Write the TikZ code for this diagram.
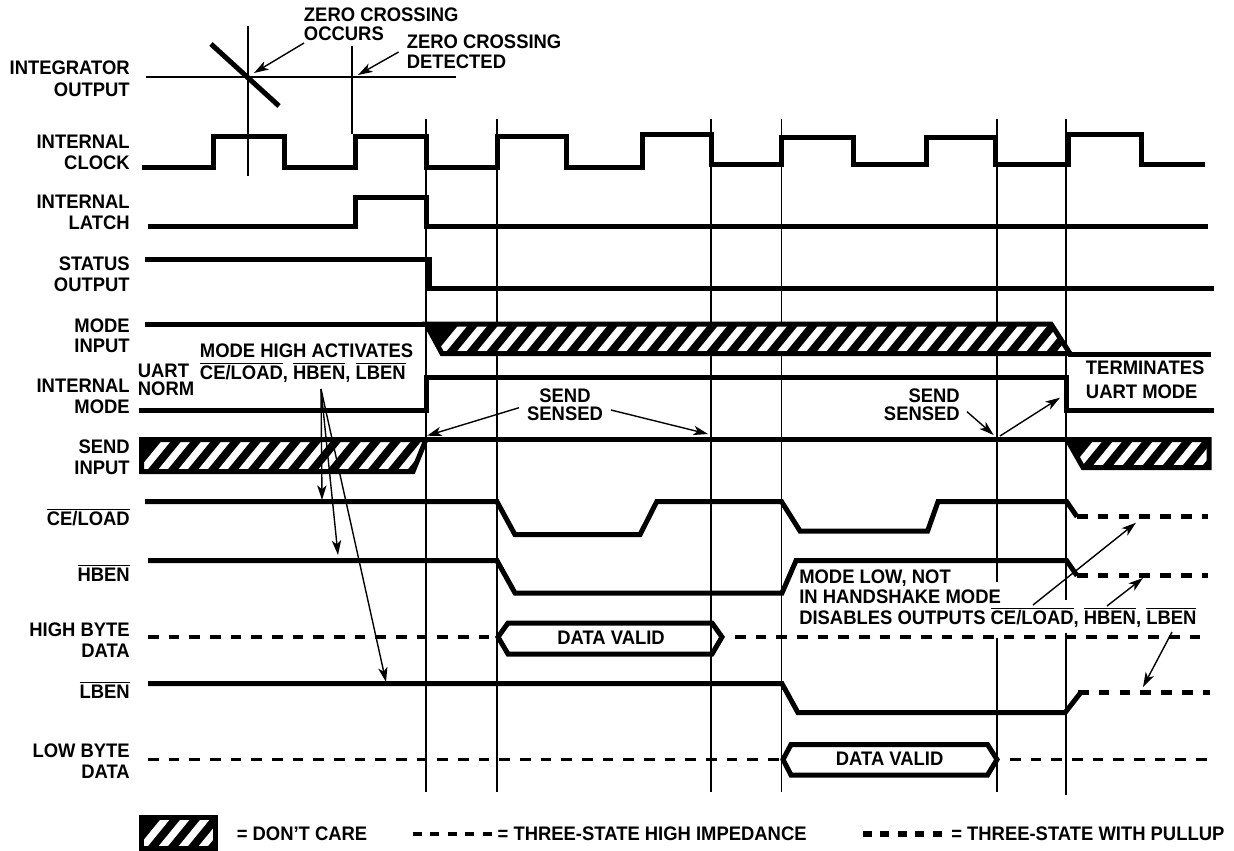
\documentclass[tikz,border=0pt]{standalone}
\usepackage{fontspec}
\setmainfont{Liberation Sans}[BoldFont=* Bold,BoldFeatures={FakeStretch=0.94}]
\usetikzlibrary{arrows.meta}
\newcommand{\ovl}[1]{\leavevmode\vbox{\hrule height 0.55pt \kern 1.5pt \hbox{#1}}}
\newcommand{\hatched}[3]{% polygon, x0, y0
  \fill[black] #1;
  \begin{scope}
    \clip #1;
    \foreach \k in {0,...,64}
      \draw[white,line width=5.4pt] ({#2+20*\k-36.8},{#3+45}) -- ({#2+20*\k+36.8},{#3-45});
  \end{scope}
  \draw[sig] #1;
}
\tikzset{
  x=0.75pt,y=-0.75pt,
  sig/.style={line width=3.75pt,miter limit=10,line join=miter},
  thinline/.style={line width=1.05pt},
  diag/.style={line width=3.75pt},
  hiz/.style={line width=2.5pt,dash pattern=on 7.9pt off 7.6pt},
  pull/.style={line width=4pt,dash pattern=on 8pt off 7.6pt},
  arr/.style={line width=1.05pt,-{Stealth[length=11pt,width=7pt,inset=3pt]}},
  lbl/.style={anchor=base east,inner sep=0pt,font=\fontsize{14.7}{16}\selectfont\bfseries},
  txt/.style={anchor=base west,inner sep=0pt,font=\fontsize{14.7}{16}\selectfont\bfseries},
  ctr/.style={anchor=base,inner sep=0pt,font=\fontsize{14.7}{16}\selectfont\bfseries},
}
\begin{document}
\begin{tikzpicture}
\useasboundingbox (0,0) rectangle (1234,850);
% vertical timing lines
\draw[thinline] (248,26) -- (248,176);
\draw[thinline] (352,46) -- (352,134);
\foreach \x in {426,497,711,781.6} \draw[thinline] (\x,119) -- (\x,792);
\draw[thinline] (997,119) -- (997,582) (997,638) -- (997,792);
\draw[thinline] (1066,119) -- (1066,600) (1066,633) -- (1066,795);
% integrator
\draw[thinline] (145.5,77) -- (455.5,77);
\draw[diag] (211,44) -- (279,106);
% clock
\draw[sig] (142,167) -- (213,167) -- (213,136.5) -- (284,136.5) -- (284,167) -- (355,167) -- (355,136.5) -- (426,136.5) -- (426,167) -- (497.5,167) -- (497.5,136.5) -- (566,136.5) -- (566,167) -- (642,167) -- (642,134.5) -- (711,134.5) -- (711,164) -- (781,164) -- (781,137) -- (853,137) -- (853,164) -- (926.5,164) -- (926.5,137) -- (995,137) -- (995,164) -- (1068,164) -- (1068,134.5) -- (1141,134.5) -- (1141,164) -- (1205,164);
% latch, status
\draw[sig] (148,226) -- (355,226) -- (355,197) -- (426,197) -- (426,226) -- (1208,226);
\draw[sig] (145,259) -- (429,259) -- (429,288) -- (1214,288);
% mode input
\draw[sig] (145,324) -- (430,324);
\hatched{(426,324) -- (1051,324) -- (1070,353.5) -- (442,353.5) -- cycle}{451}{340}
\draw[sig] (1068,354) -- (1211,354);
% internal mode
\draw[sig] (139,410) -- (426,410) -- (426,377) -- (1066.7,377) -- (1066.7,410) -- (1214,410);
% send input
\draw[sig] (426,439.5) -- (1067,439.5);
\hatched{(141.5,439.5) -- (426,439.5) -- (413,471.5) -- (141.5,471.5) -- cycle}{154}{456}
\hatched{(1067,439.5) -- (1209,439.5) -- (1209,467.5) -- (1083,467.5) -- cycle}{1088}{453}
% CE/LOAD
\draw[sig] (145,501.7) -- (497,501.7) -- (515,534.7) -- (640,534.7) -- (656.7,501.7) -- (781.6,501.7) -- (800,531) -- (927.6,531) -- (938,501.7) -- (1066.7,501.7) -- (1077,516.7);
\draw[pull] (1077,516.7) -- (1208,516.7);
% HBEN
\draw[sig] (148,560.7) -- (497,560.7) -- (515,593) -- (782,593) -- (796,560.7) -- (1066.7,560.7) -- (1077,575.7);
\draw[pull] (1077,575.7) -- (1208,575.7);
% high byte
\draw[hiz] (148,637) -- (497,637);
\draw[sig] (498,637) -- (508,623) -- (712,623) -- (722,637) -- (712,654) -- (508,654) -- cycle;
\draw[hiz] (735,637) -- (1207,637);
% LBEN
\draw[sig] (148,683.7) -- (782,683.7) -- (798,712.7) -- (1065,712.7) -- (1080.6,692.7);
\draw[pull] (1078,692.7) -- (1210,692.7);
% low byte
\draw[hiz] (148,759.3) -- (781,759.3);
\draw[sig] (783,759.5) -- (791,744.5) -- (987.5,744.5) -- (997,759.5) -- (987.5,775) -- (791,775) -- cycle;
\draw[hiz] (1010,759.3) -- (1207,759.3);
% legend
\hatched{(141.5,817.5) -- (215,817.5) -- (215,848) -- (141.5,848) -- cycle}{154}{833}
\draw[line width=2.4pt,dash pattern=on 6.75pt off 6.3pt] (413,834) -- (492,834);
\draw[line width=4pt,dash pattern=on 6.75pt off 6.3pt] (863,834) -- (942,834);
% left labels
\node[lbl] (l1a) at (130,74) {INTEGRATOR};
\node[lbl] (l1b) at (130,96) {OUTPUT};
\node[lbl] (l2a) at (130,148) {INTERNAL};
\node[lbl] (l2b) at (130,169) {CLOCK};
\node[lbl] (l3a) at (130,208.5) {INTERNAL};
\node[lbl] (l3b) at (130,229.5) {LATCH};
\node[lbl] (l4a) at (130,270.5) {STATUS};
\node[lbl] (l4b) at (130,291.5) {OUTPUT};
\node[lbl] (l5a) at (130,332) {MODE};
\node[lbl] (l5b) at (130,352.5) {INPUT};
\node[lbl] (l6a) at (130,392) {INTERNAL};
\node[lbl] (l6b) at (130,413) {MODE};
\node[lbl] (l7a) at (130,453) {SEND};
\node[lbl] (l7b) at (130,474) {INPUT};
\node[lbl] (l8) at (130,525.5) {\ovl{CE/LOAD}};
\node[lbl] (l9) at (130,581.5) {\ovl{HBEN}};
\node[lbl] (l10a) at (130,636.5) {HIGH BYTE};
\node[lbl] (l10b) at (130,657) {DATA};
\node[lbl] (l11) at (130,698) {\ovl{LBEN}};
\node[lbl] (l12a) at (130,757) {LOW BYTE};
\node[lbl] (l12b) at (130,778) {DATA};
% annotations
\node[txt] (z1a) at (303.7,21) {ZERO CROSSING};
\node[txt] (z1b) at (303.7,40.5) {OCCURS};
\node[txt] (z2a) at (406.5,48) {ZERO CROSSING};
\node[txt] (z2b) at (406.5,68) {DETECTED};
\node[txt] (u1) at (137.6,377) {UART};
\node[txt] (u2) at (137.6,395.5) {NORM};
\node[txt] (m1) at (199.7,357) {MODE HIGH ACTIVATES};
\node[txt] (m2) at (199.7,379.5) {\ovl{CE/LOAD}, \ovl{HBEN}, \ovl{LBEN}};
\node[ctr] (s1a) at (565,402.5) {SEND};
\node[ctr] (s1b) at (565,420.5) {SENSED};
\node[lbl] (s2a) at (960,402.5) {SEND};
\node[lbl] (s2b) at (960,420.5) {SENSED};
\node[txt] (t1) at (1085.7,374.5) {TERMINATES};
\node[txt] (t2) at (1085.7,398) {UART MODE};
\node[txt] (d1) at (799,583) {MODE LOW, NOT};
\node[txt] (d2) at (799,603.5) {IN HANDSHAKE MODE};
\node[txt] (d3) at (799,624.5) {DISABLES OUTPUTS \ovl{CE/LOAD}, \ovl{HBEN}, \ovl{LBEN}};
\node[ctr] (v1) at (611,644) {DATA VALID};
\node[ctr] (v2) at (889.6,765.5) {DATA VALID};
\node[txt] (k1) at (236.5,840.5) {= DON’T CARE};
\node[txt] (k2) at (497.4,840.5) {= THREE-STATE HIGH IMPEDANCE};
\node[txt] (k3) at (951,840.5) {= THREE-STATE WITH PULLUP};
% arrow anchors
\coordinate (a1s) at (304,43);   \coordinate (a1e) at (254,73);
\coordinate (a2s) at (398.6,52); \coordinate (a2e) at (358,75);
\coordinate (a3s) at (321,389);  \coordinate (a3e) at (322,500);
\coordinate (a4e) at (338,555);  \coordinate (a5e) at (386,682);
\coordinate (a6s) at (519,407.7); \coordinate (a6e) at (427,435.7);
\coordinate (a7s) at (611,410);   \coordinate (a7e) at (708,434);
\coordinate (a8s) at (967,411.7); \coordinate (a8e) at (993.6,435);
\coordinate (a9s) at (1000,436);  \coordinate (a9e) at (1060,397.7);
\coordinate (a10s) at (1033,605); \coordinate (a10e) at (1136,522.7);
\coordinate (a11s) at (1107,606); \coordinate (a11e) at (1143,578);
\coordinate (a12s) at (1172,632); \coordinate (a12e) at (1143,687);
\draw[arr] (a1s) -- (a1e);
\draw[arr] (a2s) -- (a2e);
\draw[arr] (a3s) -- (a3e);
\draw[arr] (a3s) -- (a4e);
\draw[arr] (a3s) -- (a5e);
\draw[arr] (a6s) -- (a6e);
\draw[arr] (a7s) -- (a7e);
\draw[arr] (a8s) -- (a8e);
\draw[arr] (a9s) -- (a9e);
\draw[arr] (a10s) -- (a10e);
\draw[arr] (a11s) -- (a11e);
\draw[arr] (a12s) -- (a12e);
\end{tikzpicture}
\end{document}
